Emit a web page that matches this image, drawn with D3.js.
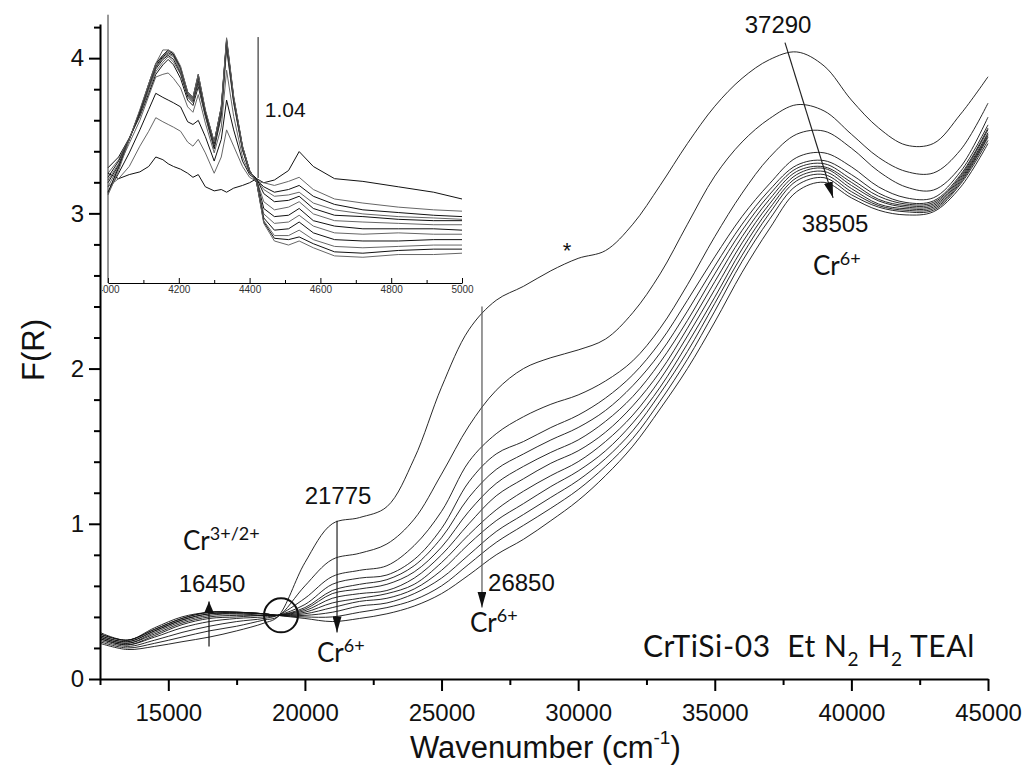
<!DOCTYPE html>
<html>
<head>
<meta charset="utf-8">
<title>CrTiSi-03 Et N2 H2 TEAl - DRS</title>
<script src="https://cdn.jsdelivr.net/npm/d3@7"></script>
<style>
  body { margin: 0; background: #fff; }
  svg { display: block; }
  .num { font-family: "Liberation Sans", Arial, sans-serif; fill: #111; }
  .cr { font-family: Lato, "Open Sans", sans-serif; fill: #111; white-space: pre; }
  .axis path, .axis line { stroke: #000; }
</style>
</head>
<body>
<svg id="chart" width="1024" height="766"></svg>
<script>
// UV-Vis DRS spectra, wavenumber (cm-1) vs F(R)
var waveMain = [12500, 13500, 14500, 15500, 16500, 17500, 18500, 19000,
  20000, 21000, 22000, 23000, 24000, 25000, 26000, 27000, 28000, 29000, 30000,
  31000, 32000, 33000, 34000, 35000, 36000, 37000, 38000, 39000, 40000, 41000,
  42000, 43000, 44000, 45000];

var spec01 = [0.23, 0.19, 0.21, 0.24, 0.27, 0.31, 0.36, 0.40, 0.75, 1.00, 1.04, 1.11, 1.42, 1.88, 2.25, 2.44, 2.53, 2.63, 2.71, 2.76, 2.93, 3.18, 3.45, 3.69, 3.87, 3.99, 4.04, 3.95, 3.73, 3.55, 3.44, 3.45, 3.64, 3.88];
var spec02 = [0.24, 0.20, 0.23, 0.27, 0.31, 0.34, 0.38, 0.40, 0.60, 0.77, 0.81, 0.87, 1.03, 1.32, 1.63, 1.86, 2.00, 2.07, 2.12, 2.19, 2.36, 2.61, 2.93, 3.24, 3.46, 3.61, 3.70, 3.66, 3.51, 3.36, 3.27, 3.26, 3.41, 3.71];
var spec03 = [0.25, 0.21, 0.25, 0.30, 0.34, 0.37, 0.39, 0.41, 0.52, 0.66, 0.70, 0.73, 0.86, 1.08, 1.40, 1.58, 1.69, 1.77, 1.83, 1.92, 2.05, 2.26, 2.54, 2.85, 3.13, 3.36, 3.51, 3.53, 3.42, 3.27, 3.17, 3.15, 3.30, 3.62];
var spec04 = [0.26, 0.22, 0.27, 0.33, 0.37, 0.39, 0.40, 0.41, 0.48, 0.61, 0.65, 0.67, 0.77, 0.97, 1.27, 1.45, 1.53, 1.62, 1.70, 1.81, 1.96, 2.17, 2.44, 2.72, 2.98, 3.19, 3.36, 3.39, 3.30, 3.17, 3.10, 3.10, 3.27, 3.57];
var spec05 = [0.26, 0.22, 0.28, 0.35, 0.39, 0.40, 0.41, 0.41, 0.46, 0.57, 0.61, 0.64, 0.73, 0.91, 1.17, 1.35, 1.45, 1.54, 1.62, 1.73, 1.89, 2.10, 2.37, 2.66, 2.93, 3.15, 3.31, 3.34, 3.25, 3.13, 3.07, 3.08, 3.25, 3.55];
var spec06 = [0.27, 0.23, 0.29, 0.36, 0.40, 0.41, 0.41, 0.41, 0.45, 0.55, 0.58, 0.61, 0.69, 0.85, 1.08, 1.26, 1.37, 1.46, 1.54, 1.66, 1.82, 2.04, 2.31, 2.61, 2.89, 3.12, 3.29, 3.32, 3.22, 3.11, 3.06, 3.07, 3.24, 3.54];
var spec07 = [0.27, 0.23, 0.30, 0.37, 0.41, 0.42, 0.41, 0.41, 0.44, 0.52, 0.55, 0.57, 0.65, 0.80, 1.00, 1.18, 1.29, 1.39, 1.47, 1.59, 1.76, 1.98, 2.26, 2.56, 2.85, 3.09, 3.27, 3.30, 3.20, 3.09, 3.05, 3.06, 3.23, 3.52];
var spec08 = [0.28, 0.24, 0.31, 0.38, 0.42, 0.42, 0.42, 0.41, 0.43, 0.49, 0.52, 0.55, 0.61, 0.75, 0.93, 1.09, 1.21, 1.31, 1.40, 1.53, 1.70, 1.93, 2.21, 2.51, 2.81, 3.06, 3.25, 3.29, 3.18, 3.08, 3.04, 3.05, 3.22, 3.51];
var spec09 = [0.28, 0.24, 0.31, 0.38, 0.42, 0.43, 0.42, 0.41, 0.42, 0.46, 0.50, 0.52, 0.58, 0.70, 0.87, 1.02, 1.13, 1.24, 1.34, 1.47, 1.65, 1.88, 2.16, 2.46, 2.77, 3.03, 3.23, 3.27, 3.16, 3.06, 3.03, 3.04, 3.21, 3.50];
var spec10 = [0.29, 0.25, 0.32, 0.39, 0.43, 0.43, 0.42, 0.41, 0.41, 0.43, 0.47, 0.49, 0.55, 0.65, 0.80, 0.95, 1.06, 1.17, 1.28, 1.42, 1.60, 1.84, 2.11, 2.42, 2.73, 3.00, 3.21, 3.25, 3.14, 3.05, 3.02, 3.03, 3.20, 3.49];
var spec11 = [0.29, 0.25, 0.32, 0.39, 0.43, 0.43, 0.42, 0.41, 0.40, 0.40, 0.43, 0.46, 0.51, 0.60, 0.74, 0.88, 0.99, 1.10, 1.22, 1.37, 1.55, 1.79, 2.06, 2.37, 2.69, 2.96, 3.18, 3.23, 3.12, 3.04, 3.01, 3.02, 3.19, 3.47];
var spec12 = [0.30, 0.25, 0.33, 0.40, 0.43, 0.43, 0.42, 0.41, 0.39, 0.37, 0.39, 0.42, 0.47, 0.55, 0.67, 0.80, 0.90, 1.02, 1.15, 1.31, 1.50, 1.74, 2.00, 2.30, 2.62, 2.90, 3.14, 3.20, 3.10, 3.02, 2.99, 3.01, 3.17, 3.45];

// inset: NIR region 4000-5000 cm-1
var waveNIR = [4000, 4030, 4060, 4090, 4115, 4135, 4155, 4170, 4185, 4205,
  4225, 4240, 4255, 4275, 4300, 4320, 4335, 4355, 4380, 4400, 4420, 4440,
  4470, 4510, 4540, 4580, 4640, 4720, 4820, 4920, 5000];

var nir01 = [0.81, 0.77, 0.80, 0.82, 0.86, 0.93, 0.91, 0.88, 0.86, 0.84, 0.81, 0.78, 0.80, 0.71, 0.68, 0.69, 0.67, 0.70, 0.72, 0.74, 0.77, 0.74, 0.76, 0.83, 0.97, 0.86, 0.77, 0.75, 0.71, 0.67, 0.62];
var nir02 = [0.71, 0.77, 0.86, 1.01, 1.12, 1.22, 1.19, 1.17, 1.15, 1.12, 1.04, 1.01, 1.06, 0.96, 0.81, 0.93, 1.13, 1.01, 0.86, 0.78, 0.75, 0.74, 0.72, 0.75, 0.78, 0.69, 0.62, 0.59, 0.56, 0.54, 0.53];
var nir03 = [0.67, 0.81, 0.96, 1.13, 1.28, 1.40, 1.37, 1.35, 1.33, 1.30, 1.19, 1.17, 1.20, 1.08, 0.90, 1.06, 1.35, 1.13, 0.90, 0.80, 0.76, 0.71, 0.67, 0.69, 0.72, 0.64, 0.58, 0.54, 0.52, 0.50, 0.49];
var nir04 = [0.66, 0.86, 1.03, 1.20, 1.38, 1.52, 1.54, 1.55, 1.51, 1.44, 1.30, 1.26, 1.39, 1.18, 0.96, 1.15, 1.57, 1.23, 0.93, 0.81, 0.77, 0.69, 0.64, 0.65, 0.67, 0.59, 0.54, 0.51, 0.49, 0.48, 0.47];
var nir05 = [0.85, 0.93, 1.07, 1.23, 1.40, 1.54, 1.61, 1.65, 1.61, 1.51, 1.35, 1.31, 1.45, 1.23, 0.99, 1.23, 1.73, 1.33, 0.98, 0.82, 0.77, 0.66, 0.60, 0.61, 0.64, 0.55, 0.50, 0.49, 0.47, 0.46, 0.46];
var nir06 = [0.81, 0.91, 1.07, 1.24, 1.42, 1.56, 1.63, 1.67, 1.63, 1.54, 1.37, 1.33, 1.47, 1.24, 1.01, 1.25, 1.76, 1.34, 0.99, 0.82, 0.76, 0.60, 0.54, 0.56, 0.60, 0.51, 0.46, 0.45, 0.44, 0.43, 0.43];
var nir07 = [0.78, 0.90, 1.06, 1.25, 1.44, 1.58, 1.65, 1.68, 1.65, 1.55, 1.38, 1.34, 1.49, 1.25, 1.01, 1.26, 1.77, 1.35, 0.99, 0.82, 0.76, 0.55, 0.49, 0.50, 0.55, 0.46, 0.42, 0.40, 0.40, 0.40, 0.39];
var nir08 = [0.76, 0.88, 1.06, 1.26, 1.44, 1.59, 1.66, 1.69, 1.67, 1.56, 1.39, 1.35, 1.51, 1.26, 1.02, 1.28, 1.78, 1.36, 1.00, 0.83, 0.75, 0.51, 0.44, 0.45, 0.50, 0.42, 0.37, 0.36, 0.37, 0.36, 0.36];
var nir09 = [0.74, 0.87, 1.06, 1.26, 1.45, 1.60, 1.67, 1.70, 1.68, 1.58, 1.40, 1.36, 1.52, 1.26, 1.03, 1.29, 1.79, 1.36, 1.00, 0.83, 0.74, 0.48, 0.39, 0.40, 0.45, 0.37, 0.32, 0.31, 0.31, 0.32, 0.32];
var nir10 = [0.71, 0.86, 1.06, 1.27, 1.46, 1.61, 1.68, 1.71, 1.69, 1.58, 1.40, 1.36, 1.53, 1.27, 1.04, 1.29, 1.79, 1.37, 1.00, 0.83, 0.74, 0.46, 0.35, 0.35, 0.39, 0.32, 0.27, 0.26, 0.27, 0.28, 0.28];
var nir11 = [0.67, 0.85, 1.06, 1.27, 1.47, 1.62, 1.68, 1.72, 1.69, 1.59, 1.41, 1.37, 1.54, 1.27, 1.04, 1.30, 1.80, 1.37, 1.01, 0.83, 0.74, 0.45, 0.33, 0.32, 0.34, 0.29, 0.23, 0.22, 0.24, 0.25, 0.25];
var nir12 = [0.65, 0.83, 1.06, 1.28, 1.47, 1.62, 1.72, 1.72, 1.70, 1.60, 1.41, 1.37, 1.54, 1.28, 1.04, 1.30, 1.81, 1.38, 1.01, 0.83, 0.74, 0.44, 0.31, 0.28, 0.31, 0.26, 0.20, 0.19, 0.21, 0.21, 0.22];

var xMajor = [15000, 20000, 25000, 30000, 35000, 40000, 45000];
var xMinor = [12500, 17500, 22500, 27500, 32500, 37500, 42500];
var yMajor = [0, 1, 2, 3, 4];
var yMinor = [0.2, 0.4, 0.6, 0.8, 1.2, 1.4, 1.6, 1.8, 2.2, 2.4, 2.6, 2.8, 3.2, 3.4, 3.6, 3.8, 4.2];
var nirMajor = [4000, 4200, 4400, 4600, 4800, 5000];
var nirMinor = [4100, 4300, 4500, 4700, 4900];

var spectra = [spec01, spec02, spec03, spec04, spec05, spec06, spec07, spec08, spec09, spec10, spec11, spec12];
var nirSpectra = [nir01, nir02, nir03, nir04, nir05, nir06, nir07, nir08, nir09, nir10, nir11, nir12];

var svg = d3.select("#chart");
var fmt = d3.format("d");

var x = d3.scaleLinear().domain([12500, 45000]).range([100, 988]);
var y = d3.scaleLinear().domain([0, 4.22]).range([679, 24]);

// inset scales
var xIn = d3.scaleLinear().domain([4000, 5000]).range([108, 462]);
var yIn = d3.scaleLinear().domain([0, 2]).range([283, 12]);

var defs = svg.append("defs");
defs.append("clipPath").attr("id", "insetClip")
  .append("rect").attr("x", 102).attr("y", 0).attr("width", 380).attr("height", 310);

function marker(id, w, h) {
  defs.append("marker")
    .attr("id", id)
    .attr("viewBox", "0 0 " + w + " " + h)
    .attr("refX", w).attr("refY", h / 2)
    .attr("markerWidth", w).attr("markerHeight", h)
    .attr("markerUnits", "userSpaceOnUse")
    .attr("orient", "auto")
    .append("path")
    .attr("d", "M0,0L" + w + "," + (h / 2) + "L0," + h + "Z")
    .attr("fill", "#111");
}
marker("head", 16, 9);
marker("headSmall", 12, 10);

// ---- inset ----
var inset = svg.append("g").attr("clip-path", "url(#insetClip)");

var lineIn = d3.line()
  .x(function(d, i) { return xIn(waveNIR[i]); })
  .y(function(d) { return yIn(d); });

inset.selectAll("path.nir")
  .data(nirSpectra)
  .enter().append("path")
  .attr("class", "nir")
  .attr("d", lineIn)
  .attr("fill", "none")
  .attr("stroke", function(d, i) { return i % 2 ? "#666" : "#111"; })
  .attr("stroke-width", 1);

var inAxis = inset.append("g")
  .attr("class", "axis")
  .attr("transform", "translate(0," + yIn(0) + ")");
inAxis.call(d3.axisBottom(xIn).tickValues(nirMajor).tickSize(-5).tickSizeOuter(0).tickPadding(3).tickFormat(fmt));
inAxis.append("g").call(d3.axisBottom(xIn).tickValues(nirMinor).tickSize(-3).tickFormat(""))
  .select(".domain").remove();
inAxis.selectAll("text").attr("font-size", 10).attr("fill", "#333")
  .attr("font-family", "'Liberation Sans', Arial, sans-serif");
inAxis.selectAll("line").attr("stroke", "#333");
inAxis.select(".domain").attr("stroke", "#333");

inset.append("line")
  .attr("x1", xIn(4000)).attr("x2", xIn(4000))
  .attr("y1", yIn(0)).attr("y2", yIn(1.98))
  .attr("stroke", "#333").attr("stroke-width", 1);

// 1.04 scale bar
inset.append("line")
  .attr("x1", xIn(4424)).attr("x2", xIn(4424))
  .attr("y1", yIn(0.775)).attr("y2", yIn(0.775 + 1.04))
  .attr("stroke", "#111").attr("stroke-width", 1);
inset.append("text").attr("class", "num")
  .attr("x", xIn(4443)).attr("y", yIn(1.225))
  .attr("font-size", 21).text("1.04");

// ---- main spectra ----
var line = d3.line()
  .x(function(d, i) { return x(waveMain[i]); })
  .y(function(d) { return y(d); })
  .curve(d3.curveCatmullRom.alpha(0.5));

svg.append("g").selectAll("path")
  .data(spectra)
  .enter().append("path")
  .attr("d", line)
  .attr("fill", "none")
  .attr("stroke", "#111")
  .attr("stroke-width", 0.9);

// ---- axes ----
var gx = svg.append("g").attr("class", "axis").attr("transform", "translate(0," + y(0) + ")");
gx.call(d3.axisBottom(x).tickValues(xMajor).tickSize(12).tickSizeOuter(0).tickPadding(13).tickFormat(fmt));
gx.append("g").call(d3.axisBottom(x).tickValues(xMinor).tickSize(6).tickFormat(""))
  .select(".domain").remove();
gx.selectAll("text").attr("font-size", 24).attr("fill", "#111")
  .attr("font-family", "'Liberation Sans', Arial, sans-serif");
gx.selectAll("line").attr("stroke-width", 2);
gx.select(".domain").attr("stroke-width", 2);

var gy = svg.append("g").attr("class", "axis").attr("transform", "translate(" + x(12500) + ",0)");
gy.call(d3.axisLeft(y).tickValues(yMajor).tickSize(11).tickSizeOuter(0).tickPadding(5).tickFormat(fmt));
gy.append("g").call(d3.axisLeft(y).tickValues(yMinor).tickSize(6).tickFormat(""))
  .select(".domain").remove();
gy.selectAll("text").attr("font-size", 24).attr("fill", "#111")
  .attr("font-family", "'Liberation Sans', Arial, sans-serif");
gy.selectAll("line").attr("stroke-width", 2);
gy.select(".domain").attr("stroke-width", 2);

svg.append("text").attr("class", "num")
  .attr("transform", "translate(44," + y(2.12) + ") rotate(-90)")
  .attr("text-anchor", "middle").attr("font-size", 31).text("F(R)");

var xl = svg.append("text").attr("class", "num")
  .attr("x", x(28800)).attr("y", 758)
  .attr("text-anchor", "middle").attr("font-size", 31);
xl.append("tspan").text("Wavenumber (cm");
xl.append("tspan").attr("font-size", 19).attr("dy", -14).text("-1");
xl.append("tspan").attr("dy", 14).text(")");

// ---- annotations ----
var arrows = [
  { x1: 16490, y1: 0.21, x2: 16490, y2: 0.50, head: "headSmall", color: "#111" },
  { x1: 21175, y1: 1.02, x2: 21175, y2: 0.30, head: "head", color: "#222" },
  { x1: 26480, y1: 2.40, x2: 26480, y2: 0.46, head: "head", color: "#555" },
  { x1: 37570, y1: 4.10, x2: 39330, y2: 3.10, head: "head", color: "#222" }
];
svg.append("g").selectAll("line")
  .data(arrows)
  .enter().append("line")
  .attr("x1", function(d) { return x(d.x1); })
  .attr("y1", function(d) { return y(d.y1); })
  .attr("x2", function(d) { return x(d.x2); })
  .attr("y2", function(d) { return y(d.y2); })
  .attr("stroke", function(d) { return d.color; })
  .attr("stroke-width", 1.2)
  .attr("marker-end", function(d) { return "url(#" + d.head + ")"; });

// isosbestic point
svg.append("circle")
  .attr("cx", x(19125)).attr("cy", y(0.41)).attr("r", 17)
  .attr("fill", "none").attr("stroke", "#111").attr("stroke-width", 2);

var numLabels = [
  { t: "37290", x: 37317, y: 4.16 },
  { t: "38505", x: 39403, y: 2.88 },
  { t: "21775", x: 21212, y: 1.13 },
  { t: "16450", x: 16600, y: 0.56 }
];
svg.append("g").selectAll("text")
  .data(numLabels)
  .enter().append("text")
  .attr("class", "num")
  .attr("x", function(d) { return x(d.x); })
  .attr("y", function(d) { return y(d.y); })
  .attr("text-anchor", "middle")
  .attr("font-size", 24)
  .text(function(d) { return d.t; });

svg.append("text").attr("class", "num")
  .attr("x", x(26702)).attr("y", y(0.57))
  .attr("font-size", 24).text("26850");

svg.append("text").attr("class", "num")
  .attr("x", x(29594)).attr("y", y(2.71))
  .attr("text-anchor", "middle").attr("font-size", 22).text("*");

var crLabels = [
  { sup: "6+", x: 38598, y: 2.60 },
  { sup: "6+", x: 20443, y: 0.11 },
  { sup: "6+", x: 26043, y: 0.30 },
  { sup: "3+/2+", x: 15538, y: 0.83 }
];
crLabels.forEach(function(d) {
  var t = svg.append("text").attr("class", "cr")
    .attr("x", x(d.x)).attr("y", y(d.y)).attr("font-size", 26);
  t.append("tspan").text("Cr");
  t.append("tspan").attr("font-size", 18).attr("dy", -10).text(d.sup);
});

var sample = svg.append("text").attr("class", "cr")
  .attr("x", x(32375)).attr("y", y(0.14)).attr("font-size", 30)
  .attr("letter-spacing", 0.6);
sample.append("tspan").text("CrTiSi-03  Et N");
sample.append("tspan").attr("font-size", 19).attr("dy", 9).text("2");
sample.append("tspan").attr("dy", -9).text(" H");
sample.append("tspan").attr("font-size", 19).attr("dy", 9).text("2");
sample.append("tspan").attr("dy", -9).text(" TEAl");
</script>
</body>
</html>
